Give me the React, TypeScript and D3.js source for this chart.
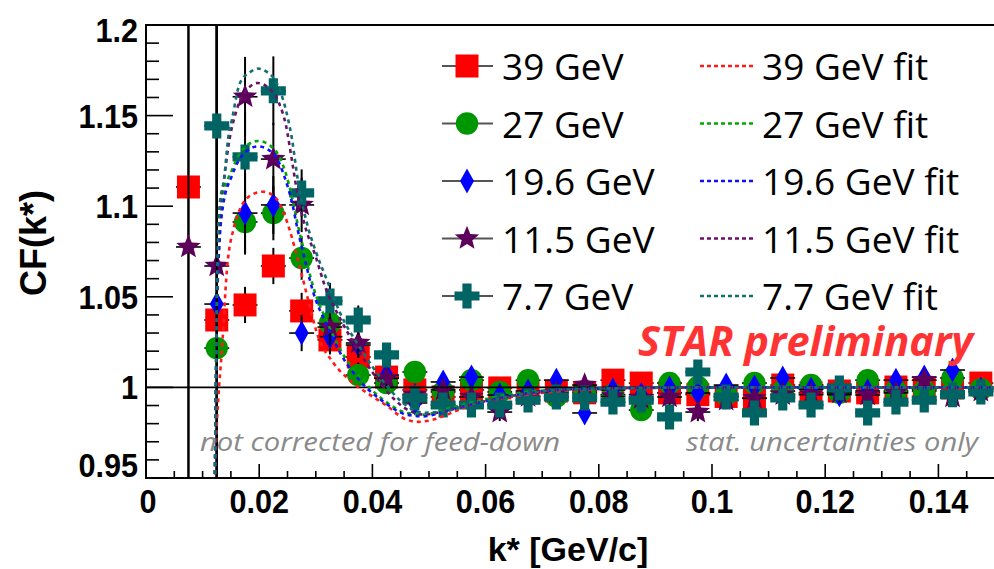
import React from "react";
import * as d3 from "d3";

const W = 994;
const H = 569;

// bin centres of k* (GeV/c)
const kBins = [
  0.0075, 0.0125, 0.0175, 0.0225, 0.0275, 0.0325, 0.0375, 0.0425, 0.0475, 0.0525,
  0.0575, 0.0625, 0.0675, 0.0725, 0.0775, 0.0825, 0.0875, 0.0925, 0.0975, 0.1025,
  0.1075, 0.1125, 0.1175, 0.1225, 0.1275, 0.1325, 0.1375, 0.1425, 0.1475,
];

const cf39 = [
  1.1106, 1.0372, 1.0455, 1.067, 1.0422, 1.0262, 1.0168, 1.0057, 0.9986, 0.9947,
  0.9986, 0.9997, 0.997, 0.998, 0.997, 1.004, 1.0024, 0.997, 0.996, 0.995,
  0.994, 1.0013, 0.997, 0.998, 0.997, 1.0002, 0.999, 0.9997, 1.0024,
];
const err39 = [
  0.3, 0.25, 0.01, 0.01, 0.01, 0.008, 0.007, 0.006, 0.005, 0.005,
  0.005, 0.005, 0.005, 0.005, 0.005, 0.005, 0.005, 0.005, 0.005, 0.005,
  0.005, 0.005, 0.005, 0.005, 0.005, 0.005, 0.005, 0.005, 0.005,
];
const cf27 = [
  null, 1.0217, 1.0913, 1.0962, 1.0714, 1.0355, 1.0068, 1.0024, 1.0085, 0.9975,
  1.004, 0.9975, 1.004, 0.995, 0.998, 0.996, 0.9875, 1.0024, 1.0002, 0.996,
  1.0024, 0.998, 1.0013, 0.997, 1.004, 0.998, 0.998, 1.0052, 0.999,
];
const err27 = [
  null, 0.25, 0.018, 0.015, 0.012, 0.009, 0.007, 0.006, 0.005, 0.005,
  0.005, 0.005, 0.005, 0.005, 0.005, 0.005, 0.005, 0.005, 0.005, 0.005,
  0.005, 0.005, 0.005, 0.005, 0.005, 0.005, 0.005, 0.005, 0.005,
];
const cf196 = [
  null, 1.046, 1.0962, 1.1007, 1.03, 1.028, 1.0234, 1.0068, 0.9914, 1.003,
  1.0057, 0.9958, 0.998, 1.004, 0.9859, 0.9986, 0.996, 0.9997, 0.9969, 1.0013,
  1.0002, 1.0052, 0.999, 0.996, 0.998, 1.004, 1.0057, 1.0096, 0.999,
];
const err196 = [
  null, 0.25, 0.022, 0.016, 0.01, 0.009, 0.007, 0.006, 0.005, 0.005,
  0.005, 0.005, 0.005, 0.005, 0.005, 0.005, 0.005, 0.005, 0.005, 0.005,
  0.005, 0.005, 0.005, 0.005, 0.005, 0.005, 0.005, 0.005, 0.005,
];
const cf115 = [
  1.0775, 1.067, 1.1604, 1.126, 1.1007, 1.0333, 1.0245, 1.005, 0.9958, 0.9986,
  0.9947, 0.9864, 0.995, 0.997, 1.0013, 0.995, 0.994, 0.9947, 0.9864, 0.993,
  0.994, 0.996, 0.996, 0.997, 0.9958, 0.997, 1.004, 0.9947, 0.998,
];
const err115 = [
  0.3, 0.25, 0.022, 0.02, 0.015, 0.01, 0.008, 0.006, 0.005, 0.005,
  0.005, 0.005, 0.005, 0.005, 0.005, 0.005, 0.005, 0.005, 0.005, 0.005,
  0.005, 0.005, 0.005, 0.005, 0.005, 0.005, 0.005, 0.005, 0.005,
];
const cf77 = [
  null, 1.1443, 1.1272, 1.1637, 1.1073, 1.0477, 1.0372, 1.0179, 0.9942, 0.9903,
  0.9903, 0.9903, 0.993, 0.9947, 0.9942, 0.9919, 0.993, 0.9837, 1.0085, 0.9947,
  0.9859, 0.9942, 0.9903, 0.9997, 0.9859, 0.9919, 0.993, 0.996, 0.9975,
];
const err77 = [
  null, 0.2, 0.025, 0.019, 0.013, 0.01, 0.008, 0.006, 0.005, 0.005,
  0.005, 0.005, 0.005, 0.005, 0.005, 0.005, 0.005, 0.005, 0.005, 0.005,
  0.005, 0.005, 0.005, 0.005, 0.005, 0.005, 0.005, 0.005, 0.005,
];
const xErr = 0.0022;

// fit curves [k, CF]
const fit39: [number, number][] = [
  [0.0121, 0.93], [0.0124, 0.97], [0.0128, 0.995], [0.0134, 1.02], [0.0143, 1.065],
  [0.0155, 1.088], [0.0167, 1.099], [0.0185, 1.106], [0.0207, 1.108], [0.0228, 1.105],
  [0.0245, 1.095], [0.0262, 1.078], [0.0277, 1.06], [0.029, 1.044], [0.0302, 1.03],
  [0.033, 1.014], [0.036, 1.004], [0.0395, 0.996], [0.0425, 0.99], [0.0455, 0.983],
  [0.048, 0.981], [0.0505, 0.982], [0.054, 0.986], [0.058, 0.991], [0.063, 0.994],
  [0.07, 0.997], [0.08, 0.999], [0.1, 1.0], [0.15, 1.0],
];
const fit27: [number, number][] = [
  [0.0121, 0.93], [0.0123, 0.98], [0.0125, 1.04], [0.0128, 1.07], [0.0136, 1.105],
  [0.0152, 1.12], [0.017, 1.131], [0.0198, 1.136], [0.0225, 1.132], [0.0245, 1.12],
  [0.0258, 1.105], [0.0268, 1.09], [0.0278, 1.077], [0.0295, 1.056], [0.032, 1.036],
  [0.0345, 1.02], [0.038, 1.005], [0.042, 0.993], [0.046, 0.986], [0.049, 0.985],
  [0.053, 0.988], [0.058, 0.992], [0.064, 0.996], [0.075, 0.999], [0.1, 1.0], [0.15, 1.0],
];
const fit196: [number, number][] = [
  [0.0121, 0.93], [0.0123, 0.98], [0.0125, 1.035], [0.0128, 1.068], [0.0136, 1.1],
  [0.0152, 1.117], [0.017, 1.128], [0.0198, 1.133], [0.0225, 1.129], [0.0245, 1.116],
  [0.0258, 1.102], [0.0268, 1.087], [0.0278, 1.074], [0.0295, 1.053], [0.032, 1.034],
  [0.0345, 1.018], [0.038, 1.003], [0.042, 0.992], [0.046, 0.985], [0.049, 0.984],
  [0.053, 0.987], [0.058, 0.991], [0.064, 0.995], [0.075, 0.999], [0.1, 1.0], [0.15, 1.0],
];
const fit115: [number, number][] = [
  [0.0121, 0.93], [0.0123, 0.99], [0.0126, 1.06], [0.013, 1.095], [0.0138, 1.115],
  [0.0145, 1.132], [0.016, 1.153], [0.0178, 1.164], [0.0197, 1.168], [0.0218, 1.165],
  [0.0235, 1.157], [0.0247, 1.145], [0.0258, 1.125], [0.0268, 1.106], [0.028, 1.09],
  [0.03, 1.072], [0.0316, 1.056], [0.0343, 1.038], [0.038, 1.018], [0.042, 1.0],
  [0.046, 0.988], [0.049, 0.985], [0.053, 0.987], [0.058, 0.991], [0.064, 0.995],
  [0.075, 0.999], [0.1, 1.0], [0.15, 1.0],
];
const fit77: [number, number][] = [
  [0.0121, 0.93], [0.0123, 0.99], [0.0126, 1.065], [0.013, 1.1], [0.0138, 1.115],
  [0.0145, 1.137], [0.0152, 1.148], [0.0166, 1.168], [0.0184, 1.174], [0.0197, 1.176],
  [0.0214, 1.174], [0.0231, 1.168], [0.0242, 1.159], [0.0251, 1.148], [0.0258, 1.137],
  [0.0263, 1.126], [0.0268, 1.115], [0.0284, 1.091], [0.03, 1.075], [0.032, 1.059],
  [0.0343, 1.041], [0.038, 1.021], [0.042, 1.003], [0.046, 0.99], [0.049, 0.986],
  [0.053, 0.987], [0.058, 0.991], [0.064, 0.995], [0.075, 0.999], [0.1, 1.0], [0.15, 1.0],
];

const seriesLabels = ["39 GeV", "27 GeV", "19.6 GeV", "11.5 GeV", "7.7 GeV"];
const fitLabels = ["39 GeV fit", "27 GeV fit", "19.6 GeV fit", "11.5 GeV fit", "7.7 GeV fit"];

const yTicks = [0.95, 1.0, 1.05, 1.1, 1.15, 1.2];
const yTickLabels = ["0.95", "1", "1.05", "1.1", "1.15", "1.2"];
const xTicks = [0, 0.02, 0.04, 0.06, 0.08, 0.1, 0.12, 0.14];
const xTickLabels = ["0", "0.02", "0.04", "0.06", "0.08", "0.1", "0.12", "0.14"];

const markerColors = ["#ff0000", "#009600", "#0000ff", "#5c005c", "#006464"];
const fitColors = ["#ff1a1a", "#00a800", "#1010ff", "#6a106a", "#107070"];
const markerKinds = ["square", "circle", "diamond", "star", "cross"];

const seriesValues = [cf39, cf27, cf196, cf115, cf77];
const seriesErrors = [err39, err27, err196, err115, err77];
const fits = [fit39, fit27, fit196, fit115, fit77];

const PL = 146, PT = 25, PR = 995, PB = 478;

const x = d3.scaleLinear().domain([0, 0.15]).range([PL, PR]);
const y = d3.scaleLinear().domain([0.95, 1.2]).range([PB, PT]);

function starPath(ro: number, ri: number) {
  const pts: string[] = [];
  for (let i = 0; i < 10; i++) {
    const r = i % 2 === 0 ? ro : ri;
    const a = -Math.PI / 2 + (i * Math.PI) / 5;
    pts.push(`${(r * Math.cos(a)).toFixed(2)},${(r * Math.sin(a)).toFixed(2)}`);
  }
  return "M" + pts.join("L") + "Z";
}

function Marker({ kind, cx, cy, color }: { kind: string; cx: number; cy: number; color: string }) {
  const t = `translate(${cx},${cy})`;
  if (kind === "square") return <rect x={cx - 11.5} y={cy - 11.5} width={23} height={23} fill={color} />;
  if (kind === "circle") return <circle cx={cx} cy={cy} r={11.2} fill={color} />;
  if (kind === "diamond") return <path transform={t} d="M0,-12.5L7,0L0,12.5L-7,0Z" fill={color} />;
  if (kind === "star") return <path transform={t} d={starPath(12.8, 5.6)} fill={color} />;
  const a = 12.5, w = 4.6;
  return (
    <path
      transform={t}
      d={`M${-w},${-a}H${w}V${-w}H${a}V${w}H${w}V${a}H${-w}V${w}H${-a}V${-w}H${-w}Z`}
      fill={color}
    />
  );
}

export default function App() {
  const line = d3
    .line<[number, number]>()
    .x((d) => x(d[0]))
    .y((d) => y(d[1]))
    .curve(d3.curveMonotoneX);

  const yMinor = d3.range(0, 26).map((i) => 0.95 + i * 0.01);
  const xMinor = d3.range(0, 31).map((i) => i * 0.005);

  const tickFont = "'Liberation Sans', Arial, Helvetica, sans-serif";
  const legFont = "'Open Sans', 'Noto Sans', sans-serif";
  const rowY = [66, 123.5, 181, 238.5, 296];

  return (
    <svg
      width={W}
      height={H}
      style={{ position: "absolute", left: 0, top: 0, background: "#fff" }}
      xmlns="http://www.w3.org/2000/svg"
    >
      <defs>
        <clipPath id="plotClip">
          <rect x={PL} y={PT} width={PR - PL} height={PB - PT} />
        </clipPath>
      </defs>
      <rect x={0} y={0} width={W} height={H} fill="#fff" />

      {/* y ticks */}
      {yMinor.map((v, i) => {
        const major = i % 5 === 0;
        return (
          <line key={"ym" + i} x1={PL} x2={PL + (major ? 27 : 13)} y1={y(v)} y2={y(v)} stroke="#000" strokeWidth={1.6} />
        );
      })}
      {/* x ticks */}
      {xMinor.map((v, i) => {
        const major = i % 4 === 0;
        return (
          <line key={"xm" + i} x1={x(v)} x2={x(v)} y1={PB} y2={PB - (major ? 14 : 7)} stroke="#000" strokeWidth={1.6} />
        );
      })}

      {/* data */}
      <g clipPath="url(#plotClip)">
        {seriesValues.map((vals, si) => (
          <g key={"s" + si}>
            {vals.map((v, i) => {
              if (v === null) return null;
              const e = seriesErrors[si][i] as number;
              const k = kBins[i];
              return (
                <g key={i}>
                  <line x1={x(k)} x2={x(k)} y1={y(v - e)} y2={y(v + e)} stroke="#000" strokeWidth={2} />
                  <line x1={x(k - xErr)} x2={x(k + xErr)} y1={y(v)} y2={y(v)} stroke="#000" strokeWidth={1.6} />
                </g>
              );
            })}
            {vals.map((v, i) =>
              v === null ? null : (
                <Marker key={"m" + i} kind={markerKinds[si]} cx={x(kBins[i])} cy={y(v)} color={markerColors[si]} />
              )
            )}
          </g>
        ))}
        <line x1={PL} x2={PR} y1={y(1)} y2={y(1)} stroke="#000" strokeWidth={1.6} />
        {fits.map((f, i) => (
          <path
            key={"f" + i}
            d={line(f) || ""}
            fill="none"
            stroke={fitColors[i]}
            strokeWidth={2.6}
            strokeDasharray="4,4"
          />
        ))}
      </g>

      {/* frame */}
      <line x1={PL} x2={PR} y1={PT} y2={PT} stroke="#000" strokeWidth={2} />
      <line x1={PL} x2={PL} y1={PT - 1} y2={PB + 1} stroke="#000" strokeWidth={2} />
      <line x1={PL} x2={PR} y1={PB} y2={PB} stroke="#000" strokeWidth={2} />

      {/* y tick labels */}
      {yTicks.map((t, i) => {
        const base = Math.min(Math.max(y(t) + 12, 42), 477);
        return (
          <text
            key={"yl" + i}
            transform={`translate(138,${base}) scale(0.9,1)`}
            textAnchor="end"
            fontFamily={tickFont}
            fontWeight="bold"
            fontSize={34}
            fill="#000"
          >
            {yTickLabels[i]}
          </text>
        );
      })}
      {/* x tick labels */}
      {xTicks.map((t, i) => (
        <text
          key={"xl" + i}
          transform={`translate(${x(t) + (i === 0 ? 2 : 0)},513) scale(0.9,1)`}
          textAnchor="middle"
          fontFamily={tickFont}
          fontWeight="bold"
          fontSize={34}
          fill="#000"
        >
          {xTickLabels[i]}
        </text>
      ))}

      {/* axis titles */}
      <text
        transform="translate(46,243) rotate(-90)"
        textAnchor="middle"
        fontFamily={tickFont}
        fontWeight="bold"
        fontSize={36}
        fill="#000"
      >
        CF(k*)
      </text>
      <text x={568} y={561} textAnchor="middle" fontFamily={tickFont} fontWeight="bold" fontSize={34} fill="#000">
        k* [GeV/c]
      </text>

      {/* legend */}
      {seriesLabels.map((lab, i) => (
        <g key={"lg" + i}>
          <line x1={442} x2={493} y1={rowY[i]} y2={rowY[i]} stroke="#555" strokeWidth={2.2} />
          <Marker kind={markerKinds[i]} cx={467} cy={rowY[i]} color={markerColors[i]} />
          <text x={502} y={rowY[i] + 14} fontFamily={legFont} fontSize={37} fill="#000">
            {lab}
          </text>
          <line
            x1={700}
            x2={753}
            y1={rowY[i]}
            y2={rowY[i]}
            stroke={fitColors[i]}
            strokeWidth={2.4}
            strokeDasharray="4,3"
          />
          <text x={762} y={rowY[i] + 14} fontFamily={legFont} fontSize={37} fill="#000">
            {fitLabels[i]}
          </text>
        </g>
      ))}

      {/* annotations */}
      <text
        x={638}
        y={356}
        fontFamily={legFont}
        fontWeight="bold"
        fontStyle="italic"
        fontSize={41}
        fill="#ff3333"
        textLength={335}
        lengthAdjust="spacingAndGlyphs"
      >
        STAR preliminary
      </text>
      <text
        x={200}
        y={451}
        fontFamily={legFont}
        fontStyle="italic"
        fontSize={26}
        fill="#8a8a8a"
        textLength={360}
        lengthAdjust="spacingAndGlyphs"
      >
        not corrected for feed-down
      </text>
      <text
        x={686}
        y={451}
        fontFamily={legFont}
        fontStyle="italic"
        fontSize={26}
        fill="#8a8a8a"
        textLength={292}
        lengthAdjust="spacingAndGlyphs"
      >
        stat. uncertainties only
      </text>
    </svg>
  );
}
